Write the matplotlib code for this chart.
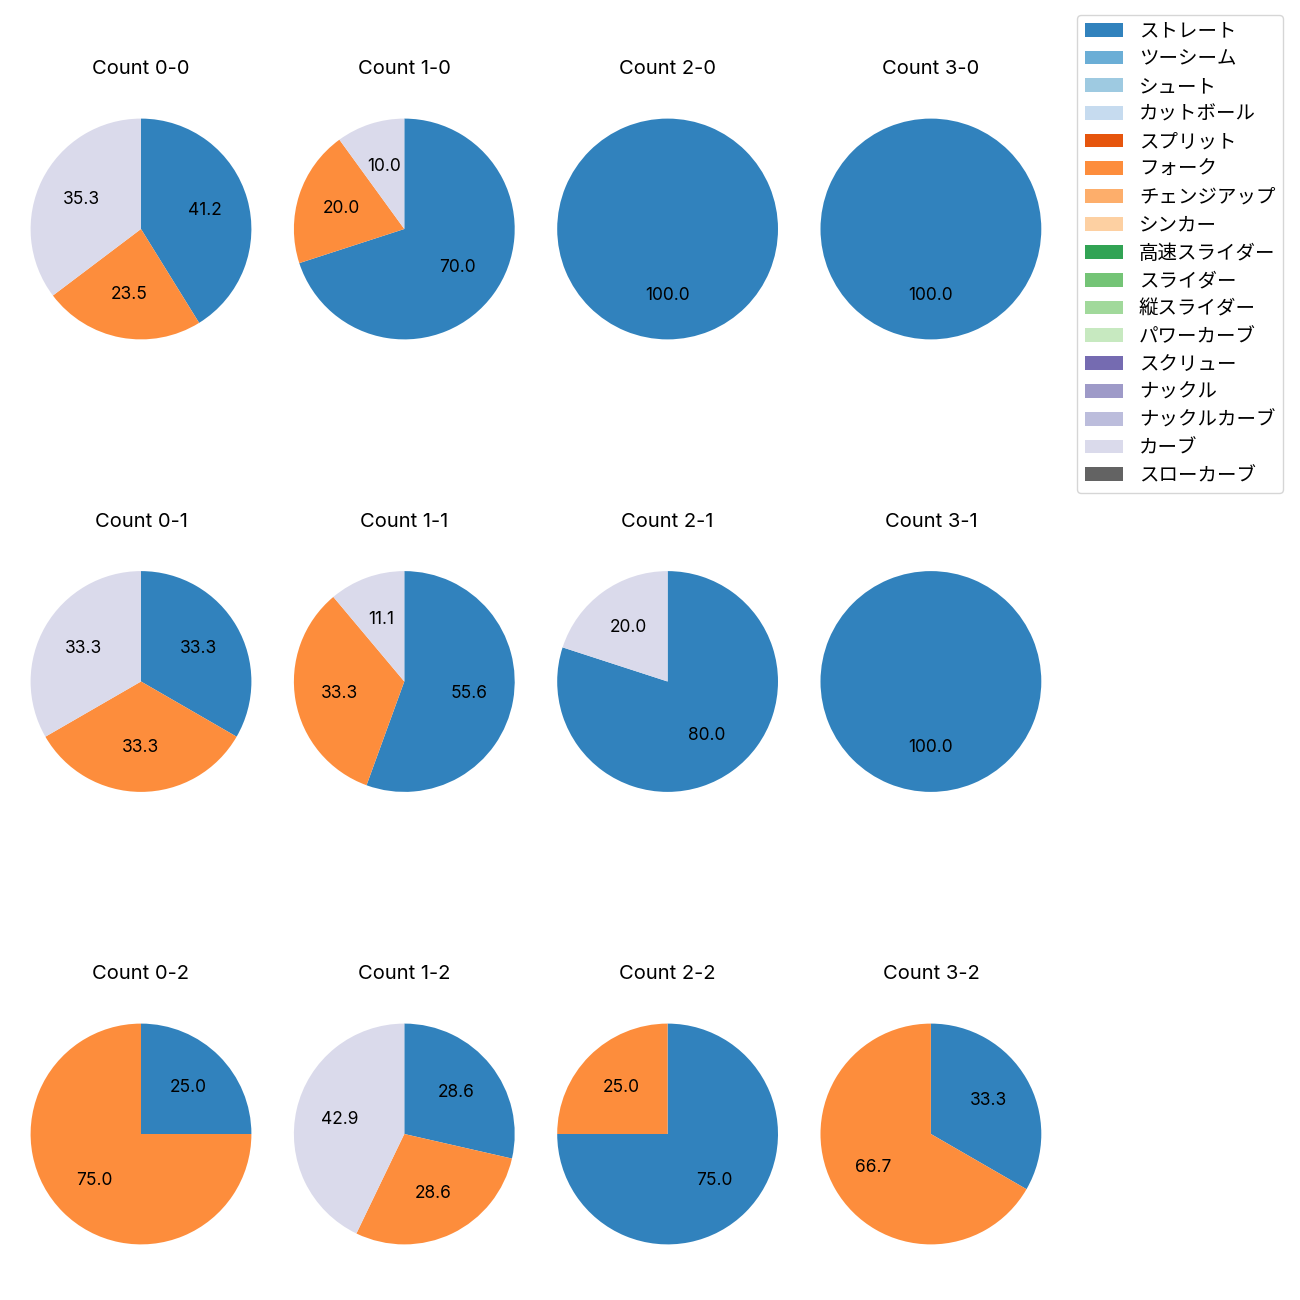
import numpy as np
import matplotlib
matplotlib.use("Agg")
from matplotlib import pyplot as plt
from matplotlib.patches import Patch

plt.rcParams['font.family'] = ['Inter', 'Noto Sans CJK JP', 'DejaVu Sans']

pitch_types = ['ストレート', 'ツーシーム', 'シュート', 'カットボール', 'スプリット',
               'フォーク', 'チェンジアップ', 'シンカー', '高速スライダー', 'スライダー',
               '縦スライダー', 'パワーカーブ', 'スクリュー', 'ナックル', 'ナックルカーブ',
               'カーブ', 'スローカーブ']
colors = [plt.cm.tab20c(i) for i in range(len(pitch_types))]

# pitch counts per ball-strike count: (ストレート, フォーク, カーブ)
counts = ['0-0', '1-0', '2-0', '3-0',
          '0-1', '1-1', '2-1', '3-1',
          '0-2', '1-2', '2-2', '3-2']
straight = [7, 7, 3, 2, 1, 5, 4, 2, 1, 2, 3, 1]
fork     = [4, 2, 0, 0, 1, 3, 0, 0, 3, 2, 1, 2]
curve    = [6, 1, 0, 0, 1, 1, 1, 0, 0, 3, 0, 0]

idx_s = pitch_types.index('ストレート')
idx_f = pitch_types.index('フォーク')
idx_c = pitch_types.index('カーブ')

fig = plt.figure(figsize=(13, 13), dpi=100)

size = 276
for k, cnt in enumerate(counts):
    row, col = k // 4, k % 4
    cx = 141 + col * 263.3
    cy = 229 + row * 452.5
    ax = fig.add_axes([(cx - size / 2) / 1300, (1300 - cy - size / 2) / 1300,
                       size / 1300, size / 1300])
    vals = [straight[k], fork[k], curve[k]]
    cols = [colors[idx_s], colors[idx_f], colors[idx_c]]
    v = [x for x in vals if x > 0]
    c = [cc for x, cc in zip(vals, cols) if x > 0]
    ax.pie(v, colors=c, startangle=90, counterclock=False,
           autopct='%.1f', textprops={'fontsize': 12.5})
    ax.set_title('Count ' + cnt, fontsize=14.5, pad=12)

handles = [Patch(facecolor=colors[i], label=pitch_types[i]) for i in range(len(pitch_types))]
fig.legend(handles=handles, loc='upper right', bbox_to_anchor=(1293 / 1300, 1 - 5 / 1300),
           fontsize=14, labelspacing=0.5)

fig.savefig('out.png', dpi=100)
